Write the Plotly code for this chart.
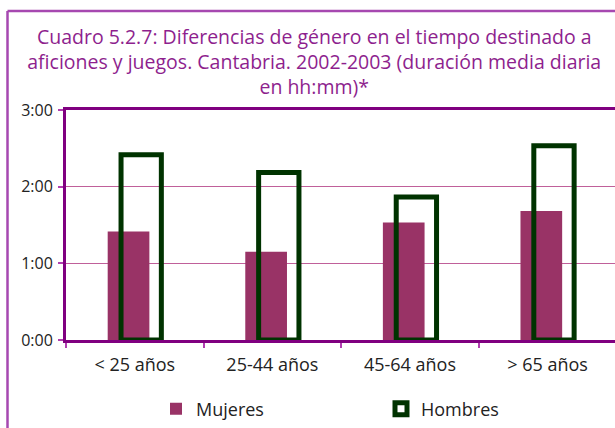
import plotly.graph_objects as go

# ---- data (minutes per day) ----
categories = ["< 25 años", "25-44 años", "45-64 años", "> 65 años"]
mujeres_min = [85, 69, 92, 101]
hombres_min = [145, 131, 112, 152]
ytick_vals = [0, 60, 120, 180]
ytick_text = ["0:00", "1:00", "2:00", "3:00"]
series_names = ["Mujeres", "Hombres"]

title_text = ("Cuadro 5.2.7: Diferencias de género en el tiempo destinado a<br>"
              "aficiones y juegos. Cantabria. 2002-2003 (duración media diaria<br>"
              "en hh:mm)*")

FONT = "Open Sans"
PURPLE = "#800080"
TXT = "#222222"

fig = go.Figure()
fig.add_trace(go.Bar(
    x=categories, y=mujeres_min, name=series_names[0],
    marker=dict(color="#993366", line=dict(width=0)),
    offset=-0.197, width=0.303,
))
fig.add_trace(go.Bar(
    x=categories, y=hombres_min, name=series_names[1],
    marker=dict(color="rgba(255,255,255,0)", line=dict(color="#003300", width=5)),
    offset=-0.1, width=0.293,
))

# plot area pixel geometry helpers for outer frame
L, T, B, W, H = 66, 110, 88, 615, 428
pw = W - L
ph = H - T - B
def px_x(p):
    return (p - L) / pw
def px_y(p):
    return (H - B - p) / ph

fig.update_layout(
    width=W, height=H,
    margin=dict(l=L, r=0, t=T, b=B, autoexpand=False),
    paper_bgcolor="white", plot_bgcolor="white",
    barmode="overlay",
    showlegend=True,
    title=dict(text=title_text, x=0.511, xref="container", xanchor="center",
               y=1 - 43.5 / H, yref="container", yanchor="top",
               font=dict(family=FONT, size=19.5, color="#8E1F8E")),
    font=dict(family=FONT, size=16, color=TXT),
    legend=dict(orientation="h", x=px_x(156), xanchor="left",
                y=px_y(409), yanchor="middle",
                entrywidth=180, entrywidthmode="pixels",
                font=dict(family=FONT, size=18, color=TXT),
                bgcolor="rgba(0,0,0,0)"),
    xaxis=dict(range=[-0.5, 3.49], showline=True, linecolor=PURPLE, linewidth=3,
               mirror=True, ticks="outside", tickson="boundaries", ticklen=5,
               tickcolor="#B040B0", tickwidth=1.5, showgrid=False,
               ticklabelstandoff=6,
               tickfont=dict(family=FONT, size=18, color=TXT)),
    yaxis=dict(range=[0, 180], tickvals=ytick_vals, ticktext=ytick_text,
               showline=True, linecolor=PURPLE, linewidth=3, ticks="outside",
               ticklen=5, tickcolor="#B040B0", tickwidth=1.5,
               ticklabelstandoff=2,
               showgrid=True, gridcolor="#C0609A", gridwidth=1, zeroline=False,
               tickfont=dict(family=FONT, size=16, color=TXT)),
    shapes=[
        dict(type="line", xref="paper", yref="paper",
             x0=px_x(7.5), x1=px_x(7.5), y0=px_y(11), y1=px_y(430),
             line=dict(color="#A648B0", width=2.5)),
        dict(type="line", xref="paper", yref="paper",
             x0=px_x(7.5), x1=px_x(620), y0=px_y(11), y1=px_y(11),
             line=dict(color="#A648B0", width=2.5)),
    ],
)

fig.write_html("out.html",
               config={"displayModeBar": False},
               post_script="document.body.style.margin='0';document.body.style.overflow='hidden';")
